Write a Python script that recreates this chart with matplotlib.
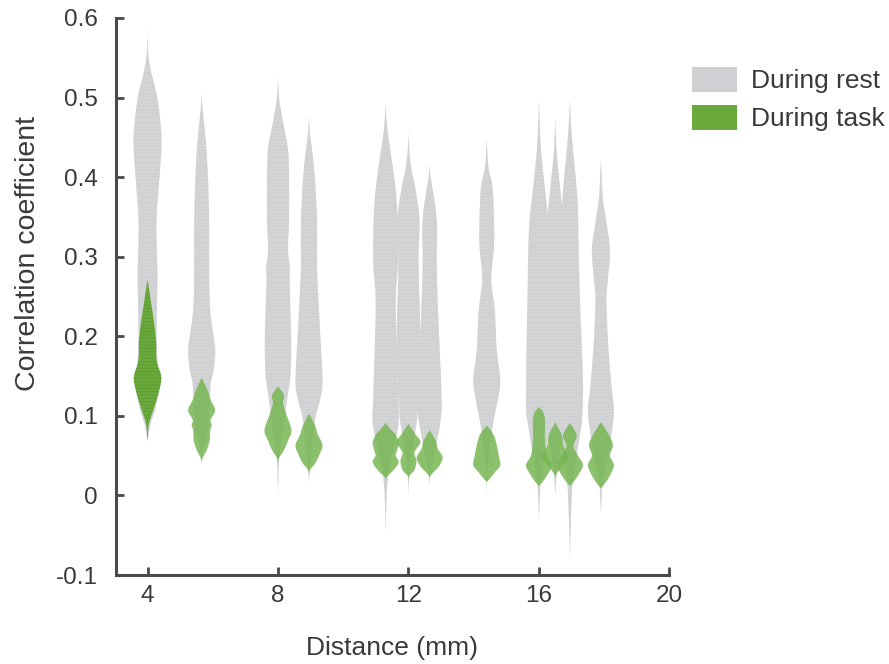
import matplotlib.pyplot as plt
import numpy as np
from matplotlib.patches import Patch, PathPatch
from matplotlib.path import Path

plt.rcParams['font.family'] = ['Liberation Sans', 'DejaVu Sans']
plt.rcParams['hatch.linewidth'] = 0.6

# distance (mm) of each electrode pair group
positions = [4.0, 5.66, 8.0, 8.95, 11.3, 12.0, 12.65, 14.4, 16.0, 16.5, 16.95, 17.9]

# violin outlines: (correlation, relative density)
rest_profiles = [
    [(0.595, 0), (0.56, 0.5), (0.536, 3), (0.498, 10), (0.448, 14), (0.401, 12), (0.347, 9), (0.30, 9.5),
     (0.271, 10), (0.208, 9), (0.17, 10), (0.14, 12), (0.11, 8), (0.09, 3), (0.075, 0.8), (0.066, 0)],
    [(0.504, 0), (0.49, 0.7), (0.473, 2), (0.448, 4), (0.41, 6), (0.372, 7), (0.334, 7.5), (0.271, 7.5),
     (0.233, 8.5), (0.208, 11), (0.183, 13.5), (0.158, 12), (0.14, 9), (0.11, 8), (0.08, 6), (0.06, 2),
     (0.05, 0.5), (0.044, 0)],
    [(0.53, 0), (0.50, 1), (0.473, 4.5), (0.435, 10), (0.397, 11), (0.347, 11), (0.309, 10), (0.284, 12),
     (0.271, 11.5), (0.208, 13), (0.166, 13), (0.145, 12), (0.12, 9), (0.09, 6), (0.06, 2), (0.03, 0.6), (0.0, 0)],
    [(0.477, 0), (0.455, 1), (0.435, 3), (0.397, 6), (0.347, 8), (0.296, 8), (0.271, 8.5), (0.208, 11),
     (0.145, 13.5), (0.12, 11), (0.095, 6), (0.06, 3), (0.03, 0.6), (0.013, 0)],
    [(0.494, 0), (0.47, 1), (0.448, 3), (0.422, 6), (0.385, 10), (0.347, 12), (0.296, 12.5), (0.246, 10),
     (0.183, 11), (0.12, 12.5), (0.091, 13), (0.06, 8), (0.03, 3), (0.0, 1), (-0.048, 0)],
    [(0.456, 0), (0.43, 1), (0.41, 3), (0.385, 7), (0.347, 11), (0.296, 10), (0.246, 11), (0.183, 12),
     (0.12, 10), (0.09, 8), (0.06, 4), (0.03, 1), (0.0, 0)],
    [(0.416, 0), (0.40, 1), (0.385, 3), (0.36, 6), (0.334, 7.5), (0.296, 7), (0.246, 8), (0.183, 10),
     (0.12, 12), (0.095, 11), (0.06, 6), (0.03, 1), (0.01, 0)],
    [(0.448, 0), (0.43, 0.7), (0.41, 2), (0.385, 6), (0.334, 7.5), (0.309, 7), (0.271, 4.5), (0.233, 8),
     (0.183, 10), (0.145, 13.5), (0.12, 11), (0.095, 7), (0.06, 3), (0.03, 0.8), (0.0, 0)],
    [(0.498, 0), (0.47, 0.7), (0.435, 2), (0.385, 6), (0.334, 10), (0.246, 11.5), (0.12, 13), (0.09, 11),
     (0.05, 6), (0.02, 2), (-0.01, 0.6), (-0.032, 0)],
    [(0.473, 0), (0.44, 1), (0.41, 3), (0.372, 6), (0.347, 7.5), (0.246, 9), (0.145, 10), (0.10, 9),
     (0.06, 5), (0.03, 1.5), (0.0, 0)],
    [(0.498, 0), (0.47, 1), (0.435, 3), (0.397, 6), (0.36, 8), (0.322, 8.5), (0.246, 10), (0.145, 13),
     (0.095, 12), (0.06, 8), (0.02, 3), (-0.03, 1), (-0.082, 0)],
    [(0.422, 0), (0.40, 0.8), (0.372, 2), (0.347, 5), (0.309, 9), (0.271, 7), (0.246, 5.5), (0.195, 7),
     (0.145, 10), (0.107, 13), (0.082, 11), (0.05, 7), (0.02, 2), (0.0, 0.8), (-0.023, 0)],
]

task_profiles = [
    [(0.271, 0), (0.246, 3), (0.221, 6), (0.195, 8.5), (0.17, 9), (0.151, 13.5), (0.139, 13), (0.12, 9),
     (0.101, 4), (0.088, 1), (0.075, 0.4), (0.07, 0)],
    [(0.148, 0), (0.132, 6), (0.12, 9), (0.107, 13.5), (0.095, 9), (0.088, 10), (0.082, 8.5), (0.069, 8),
     (0.057, 5), (0.047, 1), (0.04, 0)],
    [(0.137, 0), (0.126, 6), (0.116, 5), (0.103, 8), (0.082, 13.5), (0.069, 10), (0.057, 6), (0.047, 1),
     (0.04, 0)],
    [(0.103, 0), (0.088, 6), (0.076, 9), (0.063, 13.5), (0.05, 10), (0.04, 6), (0.032, 1), (0.025, 0)],
    [(0.091, 0), (0.083, 5), (0.076, 10), (0.066, 13), (0.055, 11), (0.05, 10), (0.042, 13), (0.032, 8),
     (0.023, 1), (0.018, 0)],
    [(0.09, 0), (0.076, 7.5), (0.067, 12), (0.054, 6), (0.044, 8), (0.032, 6), (0.025, 1), (0.02, 0)],
    [(0.082, 0), (0.069, 6), (0.059, 8), (0.048, 13), (0.038, 10), (0.032, 6), (0.025, 1), (0.02, 0)],
    [(0.088, 0), (0.076, 7), (0.063, 10), (0.05, 12), (0.038, 13.5), (0.029, 8), (0.021, 3), (0.017, 0)],
    [(0.111, 0), (0.105, 4), (0.095, 6), (0.069, 6), (0.05, 8), (0.038, 13), (0.025, 8), (0.016, 3), (0.012, 0)],
    [(0.092, 0), (0.076, 6.5), (0.063, 8), (0.05, 13), (0.042, 10), (0.032, 4), (0.025, 0.5), (0.02, 0)],
    [(0.091, 0), (0.079, 6), (0.072, 6.5), (0.062, 3.5), (0.05, 8), (0.038, 13), (0.025, 8), (0.016, 3), (0.012, 0)],
    [(0.092, 0), (0.076, 8), (0.063, 12), (0.05, 9), (0.038, 13), (0.025, 9), (0.015, 4), (0.009, 0)],
]

labels = ['During rest', 'During task']

rest_color = '#cfd0d2'
rest_stripe = '#d9dadb'
task_color = '#77b653'
task_dark = '#6aa93b'
task_stripe = '#5e9c33'
text_color = '#3a3a3a'
spine_color = '#4a4a4a'
scale = 1 / 32.6  # density units -> mm


def smooth_side(pts):
    # catmull-rom through the outline points, as bezier segments
    verts = [pts[0]]
    n = len(pts)
    for i in range(n - 1):
        p0 = pts[max(i - 1, 0)]
        p1 = pts[i]
        p2 = pts[i + 1]
        p3 = pts[min(i + 2, n - 1)]
        c1 = p1 + (p2 - p0) / 6.0
        c2 = p2 - (p3 - p1) / 6.0
        verts += [c1, c2, p2]
    return verts


def draw_violin(ax, x, profile, **kw):
    prof = np.array(profile, dtype=float)
    y = prof[:, 0]
    w = prof[:, 1] * scale
    right = np.column_stack([x + w, y])
    left = np.column_stack([x - w, y])[::-1]
    verts = smooth_side(right) + smooth_side(left)[1:]
    codes = [Path.MOVETO] + [Path.CURVE4] * (len(right) - 1) * 3 + [Path.CURVE4] * (len(left) - 1) * 3
    verts.append(verts[0])
    codes.append(Path.CLOSEPOLY)
    patch = PathPatch(Path(verts, codes), linewidth=0, **kw)
    ax.add_patch(patch)


fig = plt.figure(figsize=(8.89, 6.64), dpi=100)
ax = fig.add_axes([0.130, 0.134, 0.623, 0.839])

for x, prof in zip(positions, rest_profiles):
    draw_violin(ax, x, prof, facecolor=rest_color, edgecolor=rest_stripe, hatch='-----', zorder=2)

for i, (x, prof) in enumerate(zip(positions, task_profiles)):
    if i == 0:
        draw_violin(ax, x, prof, facecolor=task_dark, edgecolor=task_stripe, hatch='-----', zorder=3)
    else:
        draw_violin(ax, x, prof, facecolor=task_color, edgecolor=task_color, alpha=0.85, zorder=3)

ax.set_xlim(3.02, 20)
ax.set_ylim(-0.1, 0.6)
ax.set_xticks([4, 8, 12, 16, 20])
ax.set_yticks(np.arange(-0.1, 0.61, 0.1))
ax.set_yticklabels(['-0.1', '0', '0.1', '0.2', '0.3', '0.4', '0.5', '0.6'])

for side in ['top', 'right']:
    ax.spines[side].set_visible(False)
for side in ['left', 'bottom']:
    ax.spines[side].set_color(spine_color)
    ax.spines[side].set_linewidth(2.2)

ax.tick_params(direction='in', length=6, width=2, color=spine_color, labelsize=17.5,
               labelcolor=text_color)
ax.tick_params(axis='y', pad=13)
ax.tick_params(axis='x', pad=7)

ax.set_xlabel('Distance (mm)', fontsize=19, color=text_color, labelpad=21)
ax.set_ylabel('Correlation coefficient', fontsize=20.5, color=text_color)
ax.yaxis.set_label_coords(-0.134, 0.578)

handles = [Patch(facecolor=rest_color, edgecolor='none'),
           Patch(facecolor=task_dark, edgecolor='none')]
fig.legend(handles, labels, loc='upper left', bbox_to_anchor=(0.752, 0.935), frameon=False,
           fontsize=19, handlelength=1.7, handleheight=1.06, handletextpad=0.53,
           labelspacing=0.45, labelcolor=text_color)

plt.savefig('out.png', dpi=100)
